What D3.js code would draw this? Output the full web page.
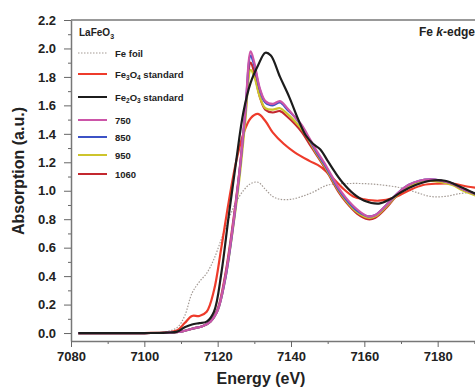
<!DOCTYPE html>
<html lang="en">
<head>
<meta charset="utf-8">
<title>LaFeO3 Fe k-edge</title>
<script src="https://cdn.jsdelivr.net/npm/d3@7"></script>
<style>
  body { margin: 0; background: #fff; }
  svg text { font-family: "Liberation Sans", Arial, sans-serif; font-weight: bold; }
</style>
</head>
<body>
<div id="chart"></div>
<script>
// data: [energy eV, absorption a.u.]
var feFoil = [[7082,0],[7100,0],[7106,0.01],[7109,0.04],[7111,0.12],[7113,0.28],[7115,0.36],[7117,0.42],[7119,0.52],[7121,0.66],[7123,0.8],[7125,0.92],[7127,1.0],[7129,1.05],[7131,1.06],[7133,1.01],[7135,0.96],[7137,0.94],[7140,0.94],[7143,0.96],[7146,0.99],[7150,1.04],[7155,1.05],[7160,1.05],[7165,1.04],[7170,1.02],[7174,0.99],[7178,0.96],[7182,0.96],[7186,0.98],[7190,0.99]]
var fe3o4 = [[7082,0],[7100,0],[7106,0.005],[7109,0.02],[7111,0.07],[7113,0.12],[7115,0.12],[7117,0.15],[7119,0.3],[7121,0.6],[7123,0.92],[7125,1.2],[7127,1.4],[7129,1.51],[7131,1.54],[7133,1.49],[7135,1.41],[7138,1.33],[7141,1.27],[7145,1.21],[7148,1.17],[7151,1.1],[7154,1.02],[7157,0.96],[7160,0.94],[7164,0.93],[7168,0.95],[7172,1.0],[7176,1.04],[7180,1.05],[7184,1.05],[7188,1.03],[7191,1.02]]
var fe2o3 = [[7082,0],[7100,0],[7106,0.003],[7109,0.01],[7111,0.04],[7113,0.06],[7115,0.07],[7117,0.08],[7119,0.15],[7121,0.42],[7123,0.82],[7125,1.2],[7127,1.55],[7129,1.76],[7131,1.88],[7133,1.97],[7134.5,1.95],[7137,1.8],[7139.5,1.66],[7142,1.5],[7144,1.39],[7146,1.33],[7148,1.29],[7150,1.21],[7152,1.13],[7154,1.06],[7157,0.98],[7160,0.93],[7164,0.91],[7167,0.94],[7170,0.99],[7174,1.04],[7178,1.07],[7182,1.07],[7186,1.03],[7191,0.97]]
var s750 = [[7082,0],[7100,0],[7106,0.002],[7110,0.01],[7113,0.03],[7116,0.05],[7118,0.08],[7120,0.16],[7122,0.38],[7124,0.72],[7126,1.15],[7127.5,1.55],[7129,1.98],[7130,1.9],[7131.5,1.72],[7133,1.63],[7135,1.61],[7137,1.63],[7139,1.58],[7141,1.52],[7143,1.46],[7145,1.37],[7147,1.28],[7149,1.2],[7151,1.11],[7153,1.02],[7155,0.95],[7158,0.87],[7161,0.82],[7163,0.83],[7166,0.9],[7169,0.98],[7172,1.04],[7175,1.07],[7178,1.08],[7181,1.07],[7184,1.05],[7187,1.01],[7191,0.97]]
var s850 = [[7082,0],[7100,0],[7106,0.002],[7110,0.01],[7113,0.03],[7116,0.05],[7118,0.08],[7120,0.16],[7122,0.37],[7124,0.71],[7126,1.14],[7127.5,1.54],[7129,1.95],[7130,1.88],[7131.5,1.71],[7133,1.62],[7135,1.6],[7137,1.62],[7139,1.57],[7141,1.52],[7143,1.45],[7145,1.36],[7147,1.27],[7149,1.19],[7151,1.1],[7153,1.01],[7155,0.94],[7158,0.86],[7161,0.82],[7163,0.83],[7166,0.9],[7169,0.98],[7172,1.04],[7175,1.07],[7178,1.08],[7181,1.07],[7184,1.05],[7187,1.01],[7191,0.97]]
var s950 = [[7082,0],[7100,0],[7106,0.002],[7110,0.01],[7113,0.03],[7116,0.05],[7118,0.08],[7120,0.16],[7122,0.37],[7124,0.7],[7126,1.1],[7127.5,1.48],[7129,1.85],[7130,1.8],[7131.5,1.66],[7133,1.58],[7135,1.57],[7137,1.58],[7139,1.54],[7141,1.49],[7143,1.43],[7145,1.35],[7147,1.26],[7149,1.18],[7151,1.09],[7153,1.0],[7155,0.93],[7158,0.85],[7161,0.81],[7163,0.82],[7166,0.89],[7169,0.97],[7172,1.03],[7175,1.06],[7178,1.07],[7181,1.06],[7184,1.04],[7187,1.0],[7191,0.96]]
var s1060 = [[7082,0],[7100,0],[7106,0.002],[7110,0.01],[7113,0.03],[7116,0.05],[7118,0.08],[7120,0.17],[7122,0.4],[7124,0.74],[7126,1.15],[7127.5,1.52],[7129,1.9],[7130,1.83],[7131.5,1.66],[7133,1.57],[7135,1.55],[7137,1.56],[7139,1.52],[7141,1.47],[7143,1.41],[7145,1.33],[7147,1.25],[7149,1.17],[7151,1.08],[7153,0.99],[7155,0.92],[7158,0.84],[7161,0.8],[7163,0.81],[7166,0.88],[7169,0.97],[7172,1.03],[7175,1.06],[7178,1.07],[7181,1.07],[7184,1.05],[7187,1.01],[7191,0.97]]

var seriesNames = ["Fe foil","Fe3O4 standard","Fe2O3 standard","750","850","950","1060"]
var seriesData = [feFoil,fe3o4,fe2o3,s750,s850,s950,s1060]
var colors = ["#a39a94","#ee3b2b","#1c1c1c","#cc55a8","#3c52c6","#cdc42c","#c3282f"]
var drawOrder = [0,1,6,5,4,3,2]

var xTicks = [7080,7100,7120,7140,7160,7180]
var yTicks = [0,0.2,0.4,0.6,0.8,1.0,1.2,1.4,1.6,1.8,2.0,2.2]

var w = 475, h = 390
var mLeft = 71, mTop = 20, mBottom = 341

var x = d3.scaleLinear().domain([7080,7191]).range([mLeft,478])
var y = d3.scaleLinear().domain([-0.056,2.2]).range([mBottom,mTop])

var svg = d3.select("#chart").append("svg").attr("width",w).attr("height",h)

// frame
svg.append("line").attr("x1",mLeft).attr("x2",w).attr("y1",mTop).attr("y2",mTop)
  .attr("stroke","#777").attr("stroke-width",1.5)

// minor ticks
var xMinor = [7090,7110,7130,7150,7170,7190]
var yMinor = [0.1,0.3,0.5,0.7,0.9,1.1,1.3,1.5,1.7,1.9,2.1]
svg.append("g").attr("transform","translate(0,"+mBottom+")")
  .call(d3.axisBottom(x).tickValues(xMinor).tickSize(3).tickFormat(""))
  .call(function(g){ g.select(".domain").remove() })
  .selectAll("line").attr("stroke","#666")
svg.append("g").attr("transform","translate("+mLeft+",0)")
  .call(d3.axisLeft(y).tickValues(yMinor).tickSize(3).tickFormat(""))
  .call(function(g){ g.select(".domain").remove() })
  .selectAll("line").attr("stroke","#666")

var xAxis = svg.append("g").attr("transform","translate(0,"+mBottom+")")
  .call(d3.axisBottom(x).tickValues(xTicks).tickSize(6).tickPadding(5).tickSizeOuter(0).tickFormat(d3.format("d")))
xAxis.select(".domain").attr("stroke","#777").attr("stroke-width",1.5)
xAxis.selectAll("line").attr("stroke","#666")
xAxis.selectAll("text").attr("font-size",13).attr("fill","#222")

var yAxis = svg.append("g").attr("transform","translate("+mLeft+",0)")
  .call(d3.axisLeft(y).tickValues(yTicks).tickSize(7).tickPadding(8).tickSizeOuter(0).tickFormat(d3.format(".1f")))
yAxis.select(".domain").attr("stroke","#777").attr("stroke-width",1.5)
yAxis.selectAll("line").attr("stroke","#666")
yAxis.selectAll("text").attr("font-size",13).attr("fill","#222")

// axis titles
svg.append("text").attr("x",261).attr("y",384).attr("text-anchor","middle")
  .attr("font-size",16).attr("fill","#222").text("Energy (eV)")
svg.append("text").attr("transform","translate(24,171) rotate(-90)").attr("text-anchor","middle")
  .attr("font-size",16).attr("fill","#222").text("Absorption (a.u.)")

// curves
var line = d3.line().x(function(d){ return x(d[0]) }).y(function(d){ return y(d[1]) })
  .curve(d3.curveCatmullRom.alpha(0.5))

svg.append("clipPath").attr("id","plot").append("rect")
  .attr("x",mLeft).attr("y",mTop).attr("width",w-mLeft).attr("height",mBottom-mTop)

var curves = svg.append("g").attr("clip-path","url(#plot)")
drawOrder.forEach(function(i){
  curves.append("path").datum(seriesData[i]).attr("d",line)
    .attr("fill","none").attr("stroke",colors[i])
    .attr("stroke-width",i==0?1.2:2.2)
    .attr("stroke-dasharray",i==0?"1.5,1.5":null)
    .attr("stroke-linejoin","round")
})

// labels
svg.append("text").attr("x",79).attr("y",36).attr("font-size",10).attr("fill","#222")
  .text("LaFeO").append("tspan").attr("font-size",7).attr("dy",3).text("3")

var edge = svg.append("text").attr("x",475).attr("y",36).attr("text-anchor","end")
  .attr("font-size",12).attr("fill","#222")
edge.append("tspan").text("Fe ")
edge.append("tspan").attr("font-style","italic").text("k")
edge.append("tspan").text("-edge")

// legend
var legendY = [53,74,97,120,137,155,174]
var leg = svg.append("g")
seriesNames.forEach(function(name,i){
  leg.append("line").attr("x1",78).attr("x2",107).attr("y1",legendY[i]).attr("y2",legendY[i])
    .attr("stroke",colors[i]).attr("stroke-width",i==0?1.2:2)
    .attr("stroke-dasharray",i==0?"1.5,1.5":null)
  var t = leg.append("text").attr("x",115).attr("y",legendY[i]+3.5).attr("font-size",9.5).attr("fill","#222")
  if(i==1 || i==2){
    t.append("tspan").text("Fe")
    t.append("tspan").attr("font-size",6.5).attr("dy",2).text(i==1?"3":"2")
    t.append("tspan").attr("dy",-2).text("O")
    t.append("tspan").attr("font-size",6.5).attr("dy",2).text(i==1?"4":"3")
    t.append("tspan").attr("dy",-2).text(" standard")
  }else{
    t.text(name)
  }
})
</script>
</body>
</html>
